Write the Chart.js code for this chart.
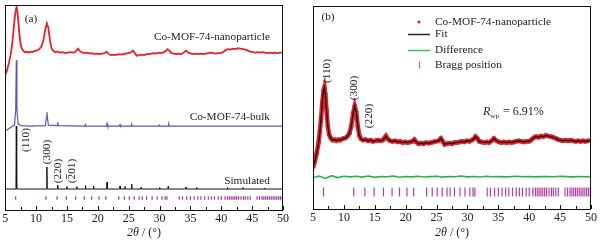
<!DOCTYPE html>
<html lang="en">
<head>
<meta charset="UTF-8">
<title>Co-MOF-74 XRD</title>
<script src="https://cdn.jsdelivr.net/npm/chart.js"></script>
<style>
  body { margin: 0; background: #fff; }
  #wrap { position: relative; width: 600px; height: 245px; }
  canvas { position: absolute; top: 0; }
  #chartA { left: 0; }
  #chartB { left: 300px; }
</style>
</head>
<body>
<div id="wrap">
  <canvas id="chartA" width="300" height="245"></canvas>
  <canvas id="chartB" width="300" height="245"></canvas>
</div>
<script>
// nanoparticle pattern (arbitrary intensity units)
const nanoX = [5.0,5.3,5.6,5.9,6.1,6.3,6.5,6.7,6.85,7.0,7.2,7.4,7.6,7.9,8.2,8.5,8.8,9.1,9.4,9.7,
  10.0,10.3,10.6,10.9,11.2,11.5,11.75,12.0,12.25,12.5,12.8,13.1,13.5,13.9,14.3,14.7,15.1,15.5,15.9,16.3,
  16.6,16.8,17.1,17.5,17.9,18.3,18.7,19.1,19.5,19.9,20.3,20.7,21.1,21.4,21.7,22.1,22.5,22.9,23.3,23.7,
  24.1,24.5,24.9,25.3,25.7,26.0,26.3,26.7,27.1,27.5,27.9,28.3,28.7,29.1,29.5,29.9,30.3,30.7,31.0,31.3,
  31.6,31.9,32.3,32.7,33.1,33.5,33.9,34.3,34.7,35.1,35.5,35.9,36.3,36.7,37.1,37.5,37.9,38.3,38.7,39.1,
  39.5,39.9,40.3,40.7,41.1,41.5,41.9,42.3,42.7,43.1,43.5,43.9,44.3,44.7,45.1,45.5,45.9,46.3,46.7,47.1,
  47.5,47.9,48.3,48.7,49.1,49.5,50.0];
const nanoY = [135,140,147,156,165,176,190,200,203,197,183,170,163,159.5,158,158.5,157.5,158.5,158,159,
  159.5,160,161.5,164,170,181,187,182,170,162,159,158,158.5,157.5,158,157,157.5,158,157.5,158,
  160,161.5,159,157.5,157,157.5,156.5,157,156,156.5,156,156.5,157,158.5,156.5,155,155.5,155,156,155.5,
  156,156.5,157,157.5,159.5,157,154.5,155,155.5,155,156,156,156.5,157,156.5,157.5,157,158,159,161,
  159.5,157,156.5,156,156.5,156,157.5,159.5,157.5,156.5,156,156.5,156,156.5,156,156.5,157,157.5,157,156.5,
  157,157,158,160,161,160.5,161.5,161,162,161.5,161,160.5,159.5,158.5,158,157.5,158,157.5,158,157.5,
  157,157.5,157,157.5,157,157.5,157.5];

// bulk pattern
const bulkX = [5,5.5,6.0,6.5,6.7,6.8,6.9,7.1,7.6,9,11.5,11.65,11.75,11.85,12.0,13.4,13.5,13.6,17.9,18.0,18.1,
  21.4,21.5,21.6,23.5,23.6,23.7,25.4,25.5,25.6,29.9,30.0,30.1,31.4,31.5,31.6,50];
const bulkY = [79,81,83,85,100,150,100,86,84.5,84,84.5,92,98,92,85,84.5,88,84.5,84,85.5,84,
  84,86.5,84,84,85.5,84,84,85.5,84,84,85,84,84,86,84,84];

// simulated stick pattern
const simPos = [6.8,11.75,13.5,15.0,16.6,18.0,19.3,21.5,23.6,24.4,25.5,27.0,30.0,31.4,34.3,36.0,41.0,43.5,47.0];
const simHeight = [84,43,25,23.5,23.5,24.5,24,28,24,23.5,26,22.5,22.5,23.5,23,22.5,22.5,22.5,22];
const simBase = 21;

// Bragg positions
const braggPos = [6.7,11.6,13.4,14.9,16.4,17.8,19.0,20.2,21.3,23.4,24.3,25.1,25.9,26.7,27.2,27.9,28.8,29.6,
  30.4,30.9,31.2,33.2,33.7,34.4,35.0,35.6,36.2,36.7,37.3,37.9,38.4,38.9,39.5,40.0,40.6,41.0,41.3,41.6,
  41.9,42.2,42.5,42.8,43.2,43.6,43.9,44.3,44.7,45.8,46.2,46.6,46.9,47.2,47.5,47.8,48.1,48.4,48.7,49.0,
  49.3,49.6,49.9];

// Rietveld difference curve
const diffX = [5,6,7,8,9,10,11,12,13,14,15,16,17,18,19,20,21,22,23,24,25,26,27,28,29,30,31,32,33,34,35,36,37,38,39,40,
  41,42,43,44,45,46,47,48,49,50];
const diffY = [126.0,127.5,125.5,127.8,126.2,127.4,126.8,127.3,126.6,127.5,126.4,127.2,126.9,127.6,126.5,127.1,
  126.8,127.4,126.7,127.0,127.3,126.6,127.2,126.9,127.5,126.8,127.1,126.7,127.3,126.9,127.2,126.8,127.0,127.4,
  126.9,127.1,126.8,127.2,127.0,126.9,127.3,127.0,126.8,127.1,126.9,127.0];

const xTicks = [5,10,15,20,25,30,35,40,45,50];

const pts = (xs, ys) => xs.map((x, i) => ({x: x, y: ys[i]}));
const SERIF = '"Liberation Serif", "Times New Roman", serif';
const RED = '#e8202a';

function sticks(pos, h, base) {
  const out = [{x: 5, y: base}];
  pos.forEach((p, i) => out.push({x: p - 0.06, y: base}, {x: p, y: h[i]}, {x: p + 0.06, y: base}));
  out.push({x: 50, y: base});
  return out;
}

// frame, inward ticks, axis title and labels
const decor = {
  id: 'decor',
  afterDraw(chart, args, o) {
    const {ctx, chartArea: a} = chart;
    const xs = chart.scales.x;
    ctx.save();
    ctx.strokeStyle = '#111';
    ctx.lineWidth = 1;
    ctx.strokeRect(Math.round(a.left) + 0.5, Math.round(a.top) + 0.5,
      Math.round(a.right - a.left) - 1, Math.round(a.bottom - a.top));
    xs.ticks.forEach(t => {
      const px = Math.round(xs.getPixelForValue(t.value)) + 0.5;
      const len = xTicks.includes(t.value) ? 4 : 3;
      ctx.beginPath();
      ctx.moveTo(px, Math.round(a.bottom));
      ctx.lineTo(px, Math.round(a.bottom) - len);
      ctx.stroke();
    });
    // axis title 2θ / (°)
    ctx.fillStyle = '#222';
    ctx.textBaseline = 'middle';
    const f1 = 'italic 12px ' + SERIF, f2 = '12px ' + SERIF;
    ctx.font = f1; const w1 = ctx.measureText('2θ').width;
    ctx.font = f2; const w2 = ctx.measureText(' / (°)').width;
    let x0 = (a.left + a.right) / 2 - (w1 + w2) / 2;
    ctx.textAlign = 'left';
    ctx.font = f1; ctx.fillText('2θ', x0, o.titleY);
    ctx.font = f2; ctx.fillText(' / (°)', x0 + w1, o.titleY);
    // labels
    (o.texts || []).forEach(t => {
      ctx.save();
      ctx.font = (t.size || 11.3) + 'px ' + SERIF;
      ctx.textAlign = t.align || 'center';
      ctx.textBaseline = 'middle';
      ctx.translate(t.x, t.y);
      if (t.rot) ctx.rotate(-Math.PI / 2);
      ctx.fillText(t.t, 0, 0);
      if (t.bar) {
        // overline on the first digit, as in (2̄01)
        const W = ctx.measureText(t.t).width;
        const w0 = ctx.measureText('(').width;
        const wd = ctx.measureText('2').width;
        ctx.strokeStyle = '#222';
        ctx.lineWidth = 0.8;
        ctx.beginPath();
        ctx.moveTo(-W / 2 + w0 + 0.5, -5.5);
        ctx.lineTo(-W / 2 + w0 + wd - 0.5, -5.5);
        ctx.stroke();
      }
      ctx.restore();
    });
    if (o.legend) {
      ctx.fillStyle = RED;
      ctx.beginPath(); ctx.arc(119, 22, 1.6, 0, Math.PI * 2); ctx.fill();
      ctx.lineWidth = 1.5;
      ctx.strokeStyle = '#222';
      ctx.beginPath(); ctx.moveTo(108, 34.5); ctx.lineTo(130, 34.5); ctx.stroke();
      ctx.strokeStyle = '#3cc060';
      ctx.beginPath(); ctx.moveTo(108, 50.5); ctx.lineTo(130, 50.5); ctx.stroke();
      ctx.strokeStyle = '#c060b8';
      ctx.lineWidth = 1.2;
      ctx.beginPath(); ctx.moveTo(119.5, 61.5); ctx.lineTo(119.5, 68.5); ctx.stroke();
      ctx.fillStyle = '#222';
      ctx.font = '11.3px ' + SERIF;
      ctx.textAlign = 'left';
      ctx.fillText('Co-MOF-74-nanoparticle', 135, 22);
      ctx.fillText('Fit', 135, 34);
      ctx.fillText('Difference', 135, 50.5);
      ctx.fillText('Bragg position', 135, 65);
      // R_wp
      ctx.textBaseline = 'alphabetic';
      ctx.font = 'italic 12px ' + SERIF;
      ctx.fillText('R', 183, 115);
      const rw = ctx.measureText('R').width;
      ctx.font = '7px ' + SERIF;
      ctx.fillText('wp', 183 + rw, 118);
      const sw = ctx.measureText('wp').width;
      ctx.font = '12px ' + SERIF;
      ctx.fillText(' = 6.91%', 183 + rw + sw + 1, 115);
    }
    ctx.restore();
  }
};

function xScale(h) {
  return {
    type: 'linear', min: 5, max: 50,
    grid: {display: false, drawTicks: false},
    border: {display: false},
    ticks: {
      stepSize: 2.5, autoSkip: false, maxRotation: 0, padding: 2, color: '#222',
      font: {family: SERIF, size: 12},
      callback: v => xTicks.includes(v) ? v : ''
    },
    afterFit: s => { s.height = h; }
  };
}

const common = {
  responsive: false,
  animation: false,
  devicePixelRatio: 1,
  elements: {line: {tension: 0}, point: {radius: 0}},
  plugins: {legend: {display: false}, tooltip: {enabled: false}}
};

// panel (a)
new Chart(document.getElementById('chartA'), {
  type: 'line',
  data: {
    datasets: [
      {data: pts(nanoX, nanoY), borderColor: RED, borderWidth: 1.8},
      {data: pts(bulkX, bulkY), borderColor: '#6650b8', borderWidth: 1.2},
      {data: sticks(simPos, simHeight, simBase), borderColor: '#111', borderWidth: 1},
      {data: braggPos.map(p => ({x: p, y: 12})), showLine: false, pointStyle: 'line', rotation: 90,
        pointRadius: 1.8, borderColor: '#a3349f', pointBorderWidth: 1.2}
    ]
  },
  options: Object.assign({}, common, {
    layout: {padding: {left: 5, right: 17, top: 5, bottom: 0}},
    scales: {x: xScale(35), y: {display: false, min: 0, max: 205}},
    plugins: Object.assign({}, common.plugins, {
      decor: {
        titleY: 233,
        texts: [
          {t: '(a)', x: 31, y: 19},
          {t: 'Co-MOF-74-nanoparticle', x: 270, y: 37, align: 'right'},
          {t: 'Co-MOF-74-bulk', x: 270, y: 117, align: 'right'},
          {t: 'Simulated', x: 270, y: 181, align: 'right'},
          {t: '(110)', x: 26, y: 140, rot: true},
          {t: '(300)', x: 47, y: 152, rot: true},
          {t: '(220)', x: 58, y: 171, rot: true},
          {t: '(201)', x: 72, y: 171, rot: true, bar: true}
        ]
      }
    })
  }),
  plugins: [decor]
});

// panel (b)
new Chart(document.getElementById('chartB'), {
  type: 'line',
  data: {
    datasets: [
      {data: pts(nanoX, nanoY), borderColor: '#111', borderWidth: 1.3},
      {data: pts(nanoX, nanoY), borderColor: RED, borderWidth: 4.5, pointRadius: 2.4,
        pointBackgroundColor: RED, pointBorderWidth: 0},
      {data: pts(diffX, diffY), borderColor: '#2ab24a', borderWidth: 1.6},
      {data: braggPos.map(p => ({x: p, y: 113.9})), showLine: false, pointStyle: 'line', rotation: 90,
        pointRadius: 4.5, borderColor: '#b040a8', pointBorderWidth: 1.2}
    ]
  },
  options: Object.assign({}, common, {
    layout: {padding: {left: 13, right: 9, top: 5, bottom: 0}},
    scales: {x: xScale(36), y: {display: false, min: 99.5, max: 272.4}},
    plugins: Object.assign({}, common.plugins, {
      decor: {
        titleY: 233,
        legend: true,
        texts: [
          {t: '(b)', x: 28, y: 17},
          {t: '(110)', x: 27, y: 71, rot: true},
          {t: '(300)', x: 54, y: 88, rot: true},
          {t: '(220)', x: 69, y: 116, rot: true}
        ]
      }
    })
  }),
  plugins: [decor]
});
</script>
</body>
</html>
